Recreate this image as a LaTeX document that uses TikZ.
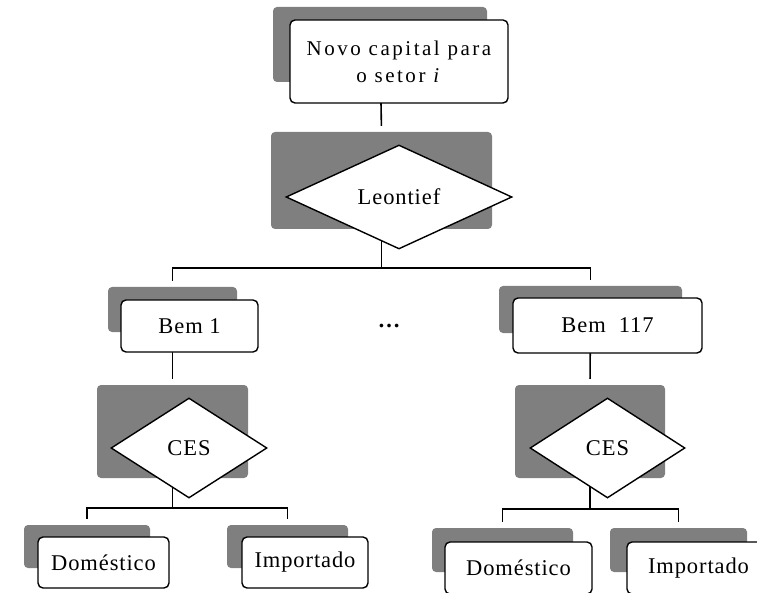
\documentclass[tikz,border=0pt]{standalone}
\usepackage{fontspec}
\setmainfont{Liberation Serif}
\usetikzlibrary{shapes.geometric,backgrounds}
\definecolor{shade}{HTML}{7F7F7F}
\newcommand{\boxfont}{\fontsize{22.5}{26}\selectfont\addfontfeatures{LetterSpace=4}}
\newcommand{\topfont}{\fontsize{21}{27}\selectfont\addfontfeatures{LetterSpace=12}}
\begin{document}
\begin{tikzpicture}[x=1pt,y=-1pt,
 back/.style={fill=shade,rounded corners=4pt,inner sep=0pt},
 box/.style={draw,fill=white,line width=1.4pt,rounded corners=5pt,inner sep=0pt,align=center,font=\boxfont},
 choice/.style={draw,fill=white,line width=1.4pt,diamond,inner sep=0pt,font=\boxfont},
 link/.style={line width=1.6pt,shorten >=6pt}]
 \useasboundingbox (0,0) rectangle (757,593);
 % top
 \node[back,minimum width=214pt,minimum height=75pt] (novobg) at (380,44.5) {};
 \node[box,minimum width=218pt,minimum height=83pt,font=\topfont] (novo) at (399,61.5) {Novo capital para\\o setor \textit{i}};
 \node[back,minimum width=221pt,minimum height=97pt] (leonbg) at (381.5,180.5) {};
 \node[choice,minimum width=226pt,minimum height=104pt] (leon) at (399,197) {Leontief};
 % Bem 1
 \node[back,minimum width=129pt,minimum height=45pt] (bem1bg) at (172.5,309.5) {};
 \node[box,minimum width=137pt,minimum height=52pt] (bem1) at (189.5,326) {Bem 1};
 \node[back,minimum width=151pt,minimum height=93pt] (ces1bg) at (172.5,431.5) {};
 \node[choice,minimum width=156pt,minimum height=100pt] (ces1) at (189,448) {CES};
 \node[back,minimum width=126pt,minimum height=43pt] (dom1bg) at (87,546.5) {};
 \node[box,minimum width=131pt,minimum height=51pt] (dom1) at (103.5,562.5) {Doméstico};
 \node[back,minimum width=121pt,minimum height=43pt] (imp1bg) at (287.5,546.5) {};
 \node[box,minimum width=126pt,minimum height=51pt] (imp1) at (305,562.5) {Importado};
 % Bem 117
 \node[back,minimum width=183pt,minimum height=47pt] (bem117bg) at (590.5,309.5) {};
 \node[box,minimum width=189pt,minimum height=55pt] (bem117) at (607.5,325.5) {Bem~~117};
 \node[back,minimum width=150pt,minimum height=93pt] (ces2bg) at (590,431.5) {};
 \node[choice,minimum width=155pt,minimum height=100pt] (ces2) at (607.5,448) {CES};
 \node[back,minimum width=141pt,minimum height=44pt] (dom2bg) at (502.5,550) {};
 \node[box,minimum width=147pt,minimum height=52pt] (dom2) at (518.5,568) {Doméstico};
 \node[back,minimum width=137pt,minimum height=44pt] (imp2bg) at (678.5,550) {};
 \node[box,minimum width=143pt,minimum height=52pt] (imp2) at (698.5,568) {Importado};
 \node[font=\boxfont\bfseries] (dots) at (389,326) {\dots};
 % forks
 \coordinate (fork0) at (0,268);
 \coordinate (fork1) at (0,508);
 \coordinate (fork2) at (0,509);
 \begin{pgfonlayer}{background}
  \draw[link] (novobg.center) -- (leonbg.north);
  \draw[link] (leonbg.center) |- (fork0 -| bem1bg) -- (bem1bg.north);
  \draw[link] (leonbg.center) |- (fork0 -| bem117bg) -- (bem117bg.north);
  \draw[link] (bem1bg.center) -- (ces1bg.north);
  \draw[link] (bem117bg.center) -- (ces2bg.north);
  \draw[link] (ces1bg.center) |- (fork1 -| dom1bg) -- (dom1bg.north);
  \draw[link] (ces1bg.center) |- (fork1 -| imp1bg) -- (imp1bg.north);
  \draw[link] (ces2bg.center) |- (fork2 -| dom2bg) -- (dom2bg.north);
  \draw[link] (ces2bg.center) |- (fork2 -| imp2bg) -- (imp2bg.north);
 \end{pgfonlayer}
\end{tikzpicture}
\end{document}
